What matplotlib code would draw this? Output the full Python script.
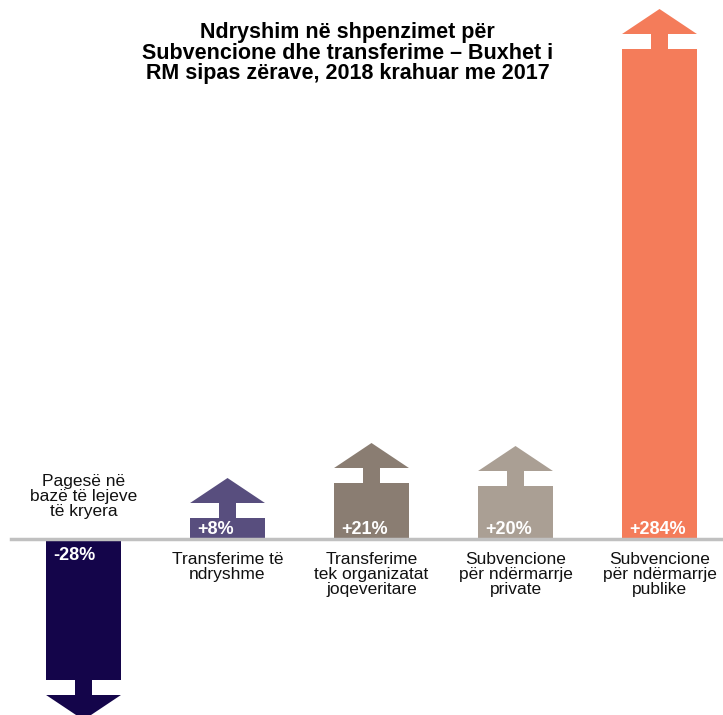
import matplotlib
matplotlib.use("Agg")
import matplotlib.pyplot as plt
from matplotlib.patches import Polygon

plt.rcParams['font.family'] = ['Liberation Sans', 'DejaVu Sans']

# data
categories = ["Pagesë në\nbazë të lejeve\ntë kryera",
              "Transferime të\nndryshme",
              "Transferime\ntek organizatat\njoqeveritare",
              "Subvencione\npër ndërmarrje\nprivate",
              "Subvencione\npër ndërmarrje\npublike"]
labels = ["-28%", "+8%", "+21%", "+20%", "+284%"]
# drawn length of each arrow body (chart units, the source is not to scale)
arrow_len = [-141, 21, 56, 53, 490]
colors = ["#14054a", "#584e7e", "#8a7d72", "#aa9f94", "#f47c5a"]

title = ("Ndryshim në shpenzimet për\n"
         "Subvencione dhe transferime – Buxhet i\n"
         "RM sipas zërave, 2018 krahuar me 2017")

fig = plt.figure(figsize=(7.23, 7.15), dpi=100)
ax = fig.add_axes([0, 0, 1, 1])
ax.set_xlim(-0.58, 4.441)
ax.set_ylim(-176, 539)
ax.axis("off")

w = 0.52      # bar width
stem = 0.12   # stem width in the gap
gap = 15
head = 25

x = list(range(len(arrow_len)))
ax.bar(x, arrow_len, width=w, color=colors, zorder=2)

for i, v in enumerate(arrow_len):
    s = 1 if v > 0 else -1
    # stem through the white gap
    ax.bar(i, s * gap, bottom=v, width=stem, color=colors[i], zorder=2)
    y0 = v + s * gap
    tri = Polygon([[i - w / 2, y0], [i + w / 2, y0], [i, y0 + s * head]],
                  closed=True, color=colors[i], zorder=2, lw=0)
    ax.add_patch(tri)
    # value label
    ty = 10 if v > 0 else -16
    ax.text(i - w / 2 + 0.05, ty, labels[i], color="white", fontsize=13,
            fontweight="bold", ha="left", va="center", zorder=4)
    # category label
    if v > 0:
        ax.text(i, -13, categories[i], ha="center", va="top", fontsize=12.5,
                linespacing=1.02, color="#111111")
    else:
        ax.text(i, 65, categories[i], ha="center", va="top", fontsize=12.5,
                linespacing=1.02, color="#111111")

ax.axhline(0, xmin=11 / 723, xmax=1, color="#c0c0c0", lw=2.5, zorder=3)

fig.text(0.481, 0.969, title, ha="center", va="top", fontsize=15.5,
         fontweight="bold", linespacing=0.97)

fig.savefig("out.png", dpi=100)
